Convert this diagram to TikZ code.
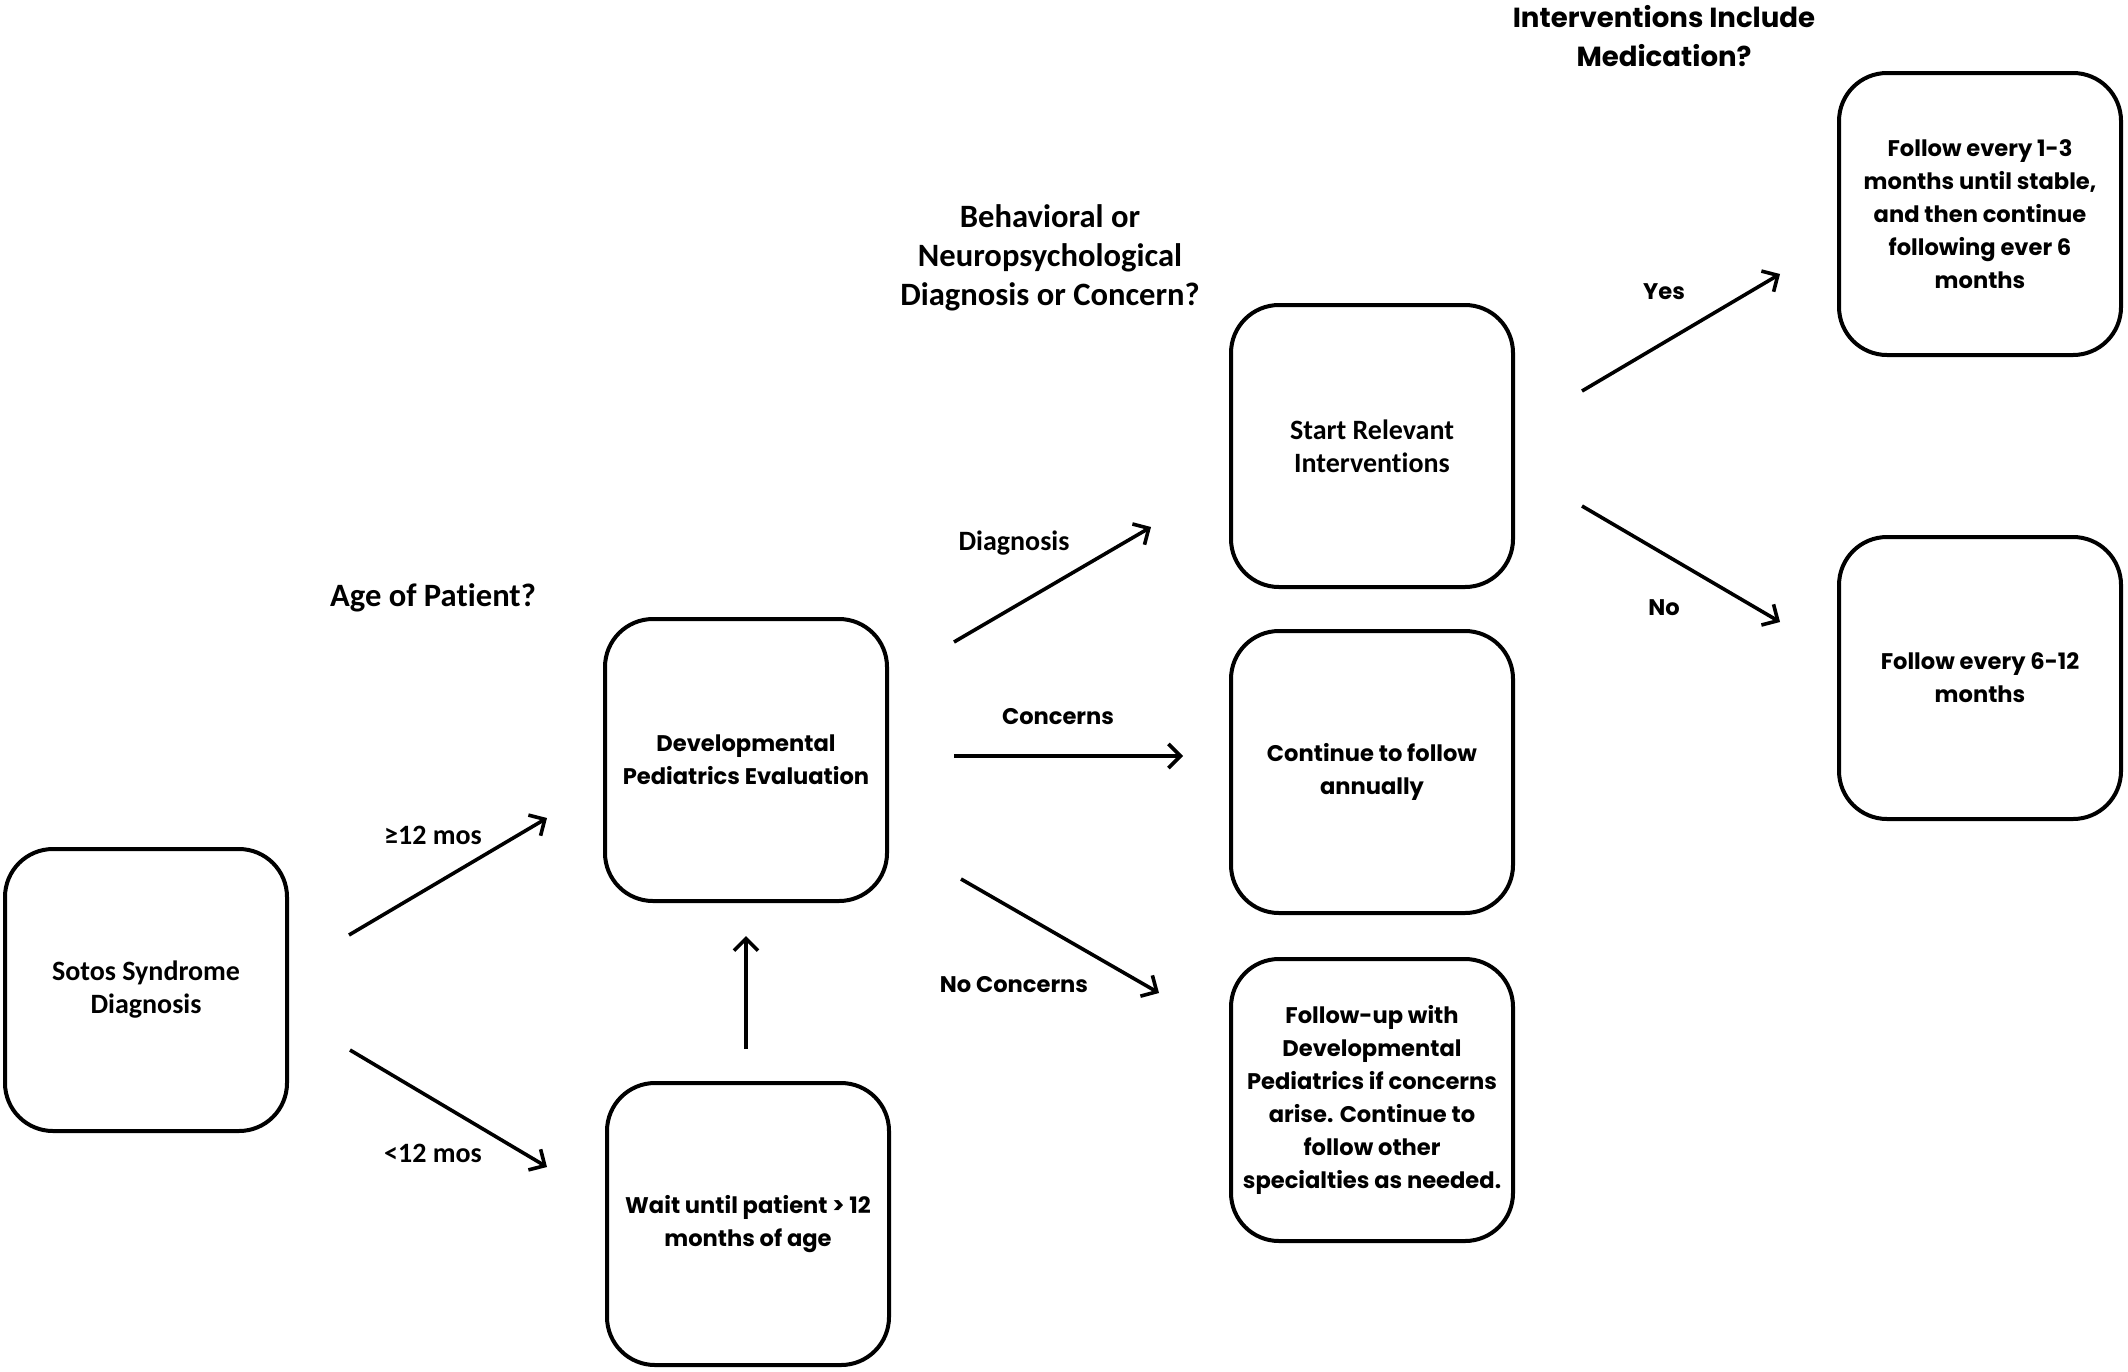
\documentclass[tikz,border=0pt]{standalone}
\usepackage{fontspec}
\setmainfont{Poppins}
\newfontfamily\condf{Carlito}[Ligatures=NoCommon]
\usetikzlibrary{arrows.meta}
\begin{document}
\begin{tikzpicture}[x=0.5pt,y=-0.5pt,
  box/.style={draw, line width=2pt, rounded corners=24pt, minimum width=141pt, minimum height=141pt, align=center, inner sep=0pt},
  ptxt/.style={font=\fontsize{11.3}{16.5}\selectfont\bfseries},
  ctxt/.style={font=\fontsize{14}{16.5}\selectfont\condf\bfseries},
  phead/.style={font=\fontsize{13.8}{19.5}\selectfont\bfseries, align=center},
  chead/.style={font=\fontsize{16.3}{19.5}\selectfont\condf\bfseries, align=center},
  arr/.style={line width=1.8pt, -{Straight Barb[length=6pt,width=12pt,line width=1.8pt]}}]
\useasboundingbox (0,0) rectangle (2128,1371);
% boxes
\node[box, ctxt] (sotos) at (146,990) {Sotos Syndrome\\Diagnosis};
\node[box, ptxt] (dev) at (746,760) {Developmental\\Pediatrics Evaluation};
\node[box, ptxt] (wait) at (748,1224) {Wait until patient > 12\\months of age};
\node[box, ctxt] (start) at (1372,446) {Start Relevant\\Interventions};
\node[box, ptxt] (cont) at (1372,772) {Continue to follow\\annually};
\node[box, ptxt] (fup) at (1372,1100) {Follow-up with\\Developmental\\Pediatrics if concerns\\arise. Continue to\\follow other\\specialties as needed.};
\node[box, ptxt] (f13) at (1980,214) {Follow every 1-3\\months until stable,\\and then continue\\following ever 6\\months};
\node[box, ptxt] (f612) at (1980,678) {Follow every 6-12\\months};
% headers
\node[chead] (hage) at (433,598) {Age of Patient?};
\node[chead] (hbeh) at (1050,258) {Behavioral or\\Neuropsychological\\Diagnosis or Concern?};
\node[phead] (hmed) at (1664,36) {Interventions Include\\Medication?};
% arrow endpoints
\coordinate (a1s) at (349,935); \coordinate (a1e) at (547,818);
\coordinate (a2s) at (350,1050); \coordinate (a2e) at (547,1167);
\coordinate (a3s) at (746,1049); \coordinate (a3e) at (746,936);
\coordinate (a4s) at (954,642); \coordinate (a4e) at (1151,527);
\coordinate (a5s) at (954,756); \coordinate (a5e) at (1183,756);
\coordinate (a6s) at (961,879); \coordinate (a6e) at (1159,993);
\coordinate (a7s) at (1582,391); \coordinate (a7e) at (1780,274);
\coordinate (a8s) at (1582,506); \coordinate (a8e) at (1780,622);
\draw[arr] (a1s) -- (a1e);
\draw[arr] (a2s) -- (a2e);
\draw[arr] (a3s) -- (a3e);
\draw[arr] (a4s) -- (a4e);
\draw[arr] (a5s) -- (a5e);
\draw[arr] (a6s) -- (a6e);
\draw[arr] (a7s) -- (a7e);
\draw[arr] (a8s) -- (a8e);
% labels
\node[ctxt] (l1) at (433,835) {≥12 mos};
\node[ctxt] (l2) at (433,1153) {<12 mos};
\node[ctxt] (l4) at (1014,543) {Diagnosis};
\node[ptxt] (l5) at (1058,717) {Concerns};
\node[ptxt] (l6) at (1014,985) {No Concerns};
\node[ptxt] (l7) at (1664,292) {Yes};
\node[ptxt] (l8) at (1664,608) {No};
\end{tikzpicture}
\end{document}
